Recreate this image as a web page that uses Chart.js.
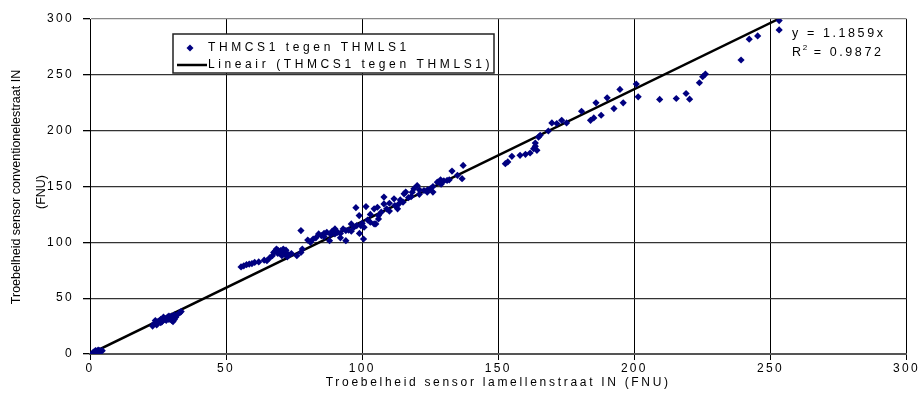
<!DOCTYPE html>
<html>
<head>
<meta charset="utf-8">
<script src="https://cdn.jsdelivr.net/npm/chart.js@4.4.0/dist/chart.umd.min.js"></script>
<style>
  html, body { margin: 0; padding: 0; background: #fff; }
  #wrap { width: 921px; height: 396px; }
</style>
</head>
<body>
<div id="wrap"><canvas id="myChart" width="921" height="396"></canvas></div>
<script>
// measured points (x = lamellenstraat, y = conventionelestraat)
var xValues = [
  1.0, 1.5, 2.0, 2.5, 3.0, 3.5, 4.0, 2.0, 3.0, 4.5,
  23, 23.5, 24, 24.5, 25, 25.5, 26, 26.5, 27, 27.5, 28, 28.5, 29, 29.5, 30, 30.5, 31, 31.5, 32, 33, 33.5, 30, 27,
  24, 26, 28, 31, 29,
  55.5, 56.5, 57.5, 58.5, 59.5, 60.5, 62, 64, 65, 66, 67, 67.5, 68, 69, 70, 70.5, 71, 71.5, 72, 72.5, 73, 68.5, 74, 76, 77.5, 78, 77.5,
  69, 70, 71, 72,
  80, 81, 82, 83, 84, 85, 86, 87, 88, 88.5, 89, 90, 91, 92, 93, 94, 94, 95, 96, 97,
  97.7, 98, 98.9, 99.5, 100, 100.5, 100.7, 101.4, 102, 103, 104.4, 104.4, 105, 105.6, 106, 107, 108, 108, 109, 110,
  111.7, 112, 113.5, 114, 115.4, 116, 117, 118.4, 119, 120.2, 121, 122.7, 123.9, 125, 126, 127.6, 128.8, 130, 131.2, 133,
  136.7, 137.1,
  86, 90, 92, 96, 99, 103, 106, 110, 113, 115, 118, 121, 124, 126, 129, 132, 135,
  152.6, 153.5, 155, 158, 160, 161.7, 163, 163.6, 163.6, 164.2, 164.8, 165.4, 168.4, 169.7, 171.5, 173.3, 175.1,
  180.6, 183.9, 185.1, 185.9, 187.8, 190, 192.5, 194.7, 195.9, 200.7, 201.4, 209.3, 215.4, 219, 220.3, 223.9, 225.1, 226.1,
  239.2, 242.2, 245.3, 253.2, 253.2
];
var yValues = [
  1.0, 2.0, 1.5, 2.5, 2.0, 3.0, 2.5, 3.0, 3.5, 3.0,
  25, 27, 28, 26, 29, 30, 31, 29, 32, 31, 32, 33, 31, 32, 30, 29, 31, 33, 35, 37, 38, 34, 33,
  30, 28, 30, 35, 34,
  78, 79, 80, 80.5, 81, 82, 82.5, 84, 83.5, 86, 88, 91, 92, 90, 92.5, 88, 91, 89.5, 93, 87, 89, 94, 90, 88, 91, 94, 110.5,
  93, 90, 94, 90,
  102, 100, 103, 104, 107.5, 106, 108, 109, 101.5, 107, 110, 107.5, 109, 108, 112, 110.5, 101.5, 111, 116.5, 113.5,
  131, 115, 124, 115, 117, 103, 113.5, 132, 120, 125, 130, 116.5, 116.5, 131.4, 124, 127, 134.4, 140.5, 130, 135,
  139, 133, 134.5, 138, 143.4, 145, 140, 144.9, 148, 150.9, 147, 146.4, 144.9, 148, 150, 153.9, 156, 155, 155.4, 163.8,
  157, 168.9,
  105, 112, 104, 110, 108, 118, 121, 128, 130, 136, 141, 143, 147, 145, 152, 156, 160,
  170.4, 172, 177, 177.9, 178.8, 180, 183.9, 186, 188.9, 182.4, 194.3, 195.9, 199.7, 206.9, 206.4, 209.3, 206.9,
  217.4, 209.3, 211.4, 224.9, 213.8, 229.4, 219.8, 236.9, 224.9, 241.7, 230.3, 228, 228.8, 233.3, 228.2, 242.9, 248.3, 250.7,
  263.3, 281.9, 284.8, 298.6, 290.2
];
// trend line y = 1.1859x, drawn from the origin to the top of the plot
var trendX = [0, 253];
var trendY = [0, 300];

var seriesLabel = 'THMCS1 tegen THMLS1';
var trendLabel = 'Lineair (THMCS1 tegen THMLS1)';
var equationLines = ['y = 1.1859x', 'R', ' = 0.9872'];
var xTitle = 'Troebelheid sensor lamellenstraat IN (FNU)';
var yTitle = ['Troebelheid sensor conventionelestraat IN', '(FNU)'];

var points = xValues.map(function (x, i) { return {x: x, y: yValues[i]}; });
var trend = trendX.map(function (x, i) { return {x: x, y: trendY[i]}; });

var FONT = '"Liberation Sans", Arial, sans-serif';

var excelLook = {
  id: 'excelLook',
  beforeUpdate: function (chart) { chart.ctx.letterSpacing = '2.3px'; },
  beforeDraw: function (chart) { chart.ctx.letterSpacing = '2.3px'; },
  afterDraw: function (chart) {
    var ctx = chart.ctx;
    var area = chart.chartArea;
    ctx.save();
    ctx.fillStyle = '#000';

    // x axis title
    ctx.letterSpacing = '2.7px';
    ctx.font = '12px ' + FONT;
    ctx.textAlign = 'center';
    ctx.textBaseline = 'middle';
    ctx.fillText(xTitle, (area.left + area.right) / 2, 383);

    // y axis title (two lines, rotated)
    ctx.letterSpacing = '0px';
    ctx.font = '12.5px ' + FONT;
    ctx.save();
    ctx.translate(17, 187);
    ctx.rotate(-Math.PI / 2);
    ctx.fillText(yTitle[0], 0, 0);
    ctx.restore();
    ctx.save();
    ctx.translate(42, 192);
    ctx.rotate(-Math.PI / 2);
    ctx.fillText(yTitle[1], 0, 0);
    ctx.restore();

    // legend box
    ctx.fillStyle = '#fff';
    ctx.fillRect(173, 34, 321, 39);
    ctx.strokeStyle = '#222';
    ctx.lineWidth = 1.5;
    ctx.strokeRect(173, 34, 321, 39);
    ctx.fillStyle = '#000080';
    ctx.beginPath();
    ctx.moveTo(190, 44.5); ctx.lineTo(193.5, 48); ctx.lineTo(190, 51.5); ctx.lineTo(186.5, 48);
    ctx.closePath(); ctx.fill();
    ctx.strokeStyle = '#000';
    ctx.lineWidth = 2.5;
    ctx.beginPath(); ctx.moveTo(177, 65); ctx.lineTo(207, 65); ctx.stroke();
    ctx.fillStyle = '#000';
    ctx.font = '12px ' + FONT;
    ctx.letterSpacing = '3.6px';
    ctx.textAlign = 'left';
    ctx.fillText(seriesLabel, 208, 48);
    ctx.fillText(trendLabel, 208, 65);

    // regression equation
    ctx.font = '12.5px ' + FONT;
    ctx.letterSpacing = '2.6px';
    ctx.fillText(equationLines[0], 792, 34);
    ctx.fillText(equationLines[1], 792, 53);
    var rw = ctx.measureText(equationLines[1]).width;
    ctx.font = '8px ' + FONT;
    ctx.letterSpacing = '0px';
    ctx.fillText('2', 792 + rw - 1, 48);
    ctx.font = '12.5px ' + FONT;
    ctx.letterSpacing = '2.6px';
    ctx.fillText(equationLines[2], 792 + rw + 4, 53);
    ctx.restore();
  }
};

var ctx = document.getElementById('myChart').getContext('2d');
var myChart = new Chart(ctx, {
  type: 'scatter',
  data: {
    datasets: [{
      label: seriesLabel,
      data: points,
      pointStyle: 'rectRot',
      pointRadius: 3.6,
      backgroundColor: '#000080',
      borderColor: '#000080',
      borderWidth: 0
    }, {
      type: 'line',
      label: trendLabel,
      data: trend,
      borderColor: '#000',
      borderWidth: 2.5,
      pointRadius: 0,
      fill: false
    }]
  },
  options: {
    responsive: false,
    animation: false,
    layout: { padding: { top: 19, right: 12, left: 0, bottom: 0 } },
    plugins: {
      legend: { display: false },
      tooltip: { enabled: false }
    },
    scales: {
      x: {
        type: 'linear',
        min: 0, max: 300,
        afterFit: function (scale) { scale.height = 42; },
        ticks: { stepSize: 50, color: '#000', font: { size: 12, family: FONT }, padding: 1, maxRotation: 0 },
        grid: { color: '#000', lineWidth: 1, tickLength: 6, tickColor: '#000' },
        border: { color: '#555', width: 2 }
      },
      y: {
        min: 0, max: 300,
        afterFit: function (scale) { scale.width = 90; },
        ticks: { stepSize: 50, color: '#000', font: { size: 12, family: FONT }, padding: 9 },
        grid: {
          color: function (c) { return c.tick && c.tick.value === 300 ? '#888' : '#333'; },
          lineWidth: 1.3, tickLength: 7, tickColor: '#000'
        },
        border: { color: '#000', width: 1 }
      }
    }
  },
  plugins: [excelLook]
});
</script>
</body>
</html>
